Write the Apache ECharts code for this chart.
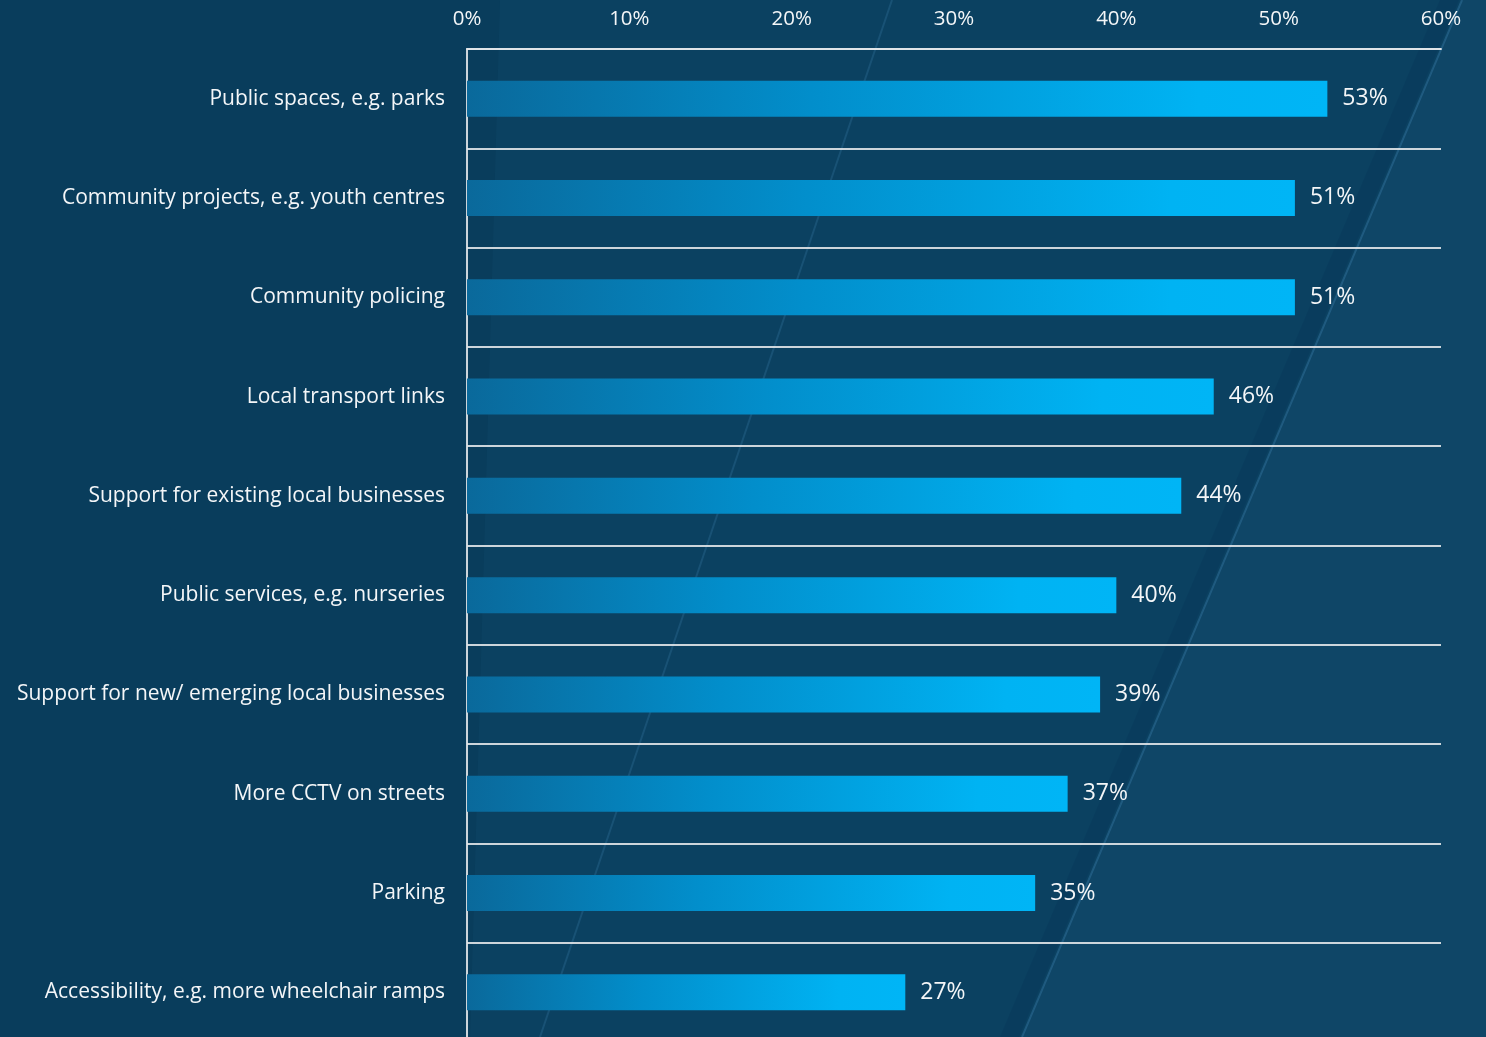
<!DOCTYPE html>
<html>
<head>
<meta charset="utf-8">
<title>Priorities for local investment</title>
<script src="https://cdn.jsdelivr.net/npm/echarts@6/dist/echarts.min.js"></script>
<style>
  html, body { margin: 0; padding: 0; background: #0a3d5c; }
  #chart { width: 1486px; height: 1037px; }
</style>
</head>
<body>
<div id="chart"></div>
<script>
// Share of respondents choosing each area (%)
const categories = [
  'Public spaces, e.g. parks',
  'Community projects, e.g. youth centres',
  'Community policing',
  'Local transport links',
  'Support for existing local businesses',
  'Public services, e.g. nurseries',
  'Support for new/ emerging local businesses',
  'More CCTV on streets',
  'Parking',
  'Accessibility, e.g. more wheelchair ramps'
];
const shares = [53, 51, 51, 46, 44, 40, 39, 37, 35, 27];
const axisTicks = [0, 10, 20, 30, 40, 50, 60];

const FONT = '"Open Sans", Lato, sans-serif';
const TEXT = '#f4f6f8';
const RULE = 'rgba(226,230,233,0.9)';

const chart = echarts.init(document.getElementById('chart'), null, { renderer: 'canvas' });

chart.setOption({
  backgroundColor: '#093d5c',
  animation: false,
  graphic: [
    // backdrop: faint texture of the street scene behind the plot
    {
      type: 'polygon', silent: true, z: -2,
      shape: { points: [[500, 0], [1486, 0], [1486, 1037], [470, 1037]] },
      style: { fill: 'rgba(30,90,125,0.14)' }
    },
    {
      type: 'polygon', silent: true, z: -2,
      shape: { points: [[1462, 0], [1486, 0], [1486, 1037], [1022, 1037]] },
      style: { fill: 'rgba(40,105,145,0.14)' }
    },
    {
      type: 'polygon', silent: true, z: -1,
      shape: { points: [[1440, 0], [1459, 0], [1019, 1037], [1000, 1037]] },
      style: { fill: 'rgba(3,45,80,0.22)' }
    },
    {
      type: 'line', silent: true, z: -1,
      shape: { x1: 1462, y1: 0, x2: 1022, y2: 1037 },
      style: { stroke: 'rgba(80,150,200,0.28)', lineWidth: 2 }
    },
    {
      type: 'line', silent: true, z: -1,
      shape: { x1: 892, y1: 0, x2: 540, y2: 1037 },
      style: { stroke: 'rgba(80,150,200,0.2)', lineWidth: 2 }
    }
  ],
  grid: {
    left: 467, right: 45, top: 49, height: 993,
    containLabel: false, outerBoundsMode: 'none'
  },
  xAxis: {
    type: 'value',
    position: 'top',
    min: axisTicks[0],
    max: axisTicks[axisTicks.length - 1],
    interval: axisTicks[1] - axisTicks[0],
    axisLine: { show: true, lineStyle: { color: RULE, width: 2 } },
    axisTick: { show: false },
    splitLine: { show: false },
    axisLabel: {
      color: TEXT, fontFamily: FONT, fontSize: 20.5, margin: 19,
      formatter: '{value}%'
    }
  },
  yAxis: {
    type: 'category',
    inverse: true,
    data: categories,
    axisLine: { show: true, lineStyle: { color: RULE, width: 2 } },
    axisTick: { show: false },
    splitLine: { show: true, lineStyle: { color: RULE, width: 2 } },
    axisLabel: { color: TEXT, fontFamily: FONT, fontSize: 21, margin: 22 }
  },
  series: [{
    type: 'bar',
    data: shares,
    barWidth: 36,
    itemStyle: {
      color: {
        type: 'linear', x: 0, y: 0, x2: 1, y2: 0,
        colorStops: [
          { offset: 0, color: '#0a699b' },
          { offset: 0.4, color: '#028ecb' },
          { offset: 0.85, color: '#00b3f3' },
          { offset: 1, color: '#00b5f6' }
        ]
      }
    },
    label: {
      show: true, position: 'right', distance: 15,
      color: TEXT, fontFamily: FONT, fontSize: 23,
      formatter: '{c}%'
    }
  }]
});
</script>
</body>
</html>
